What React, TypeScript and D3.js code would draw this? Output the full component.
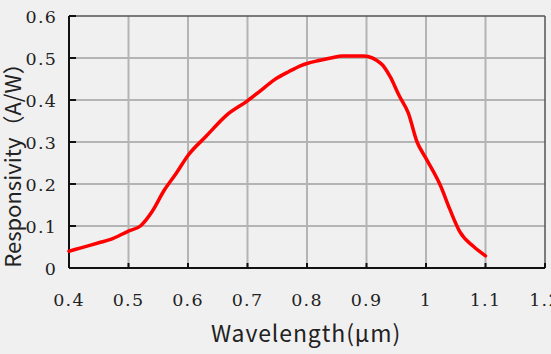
import * as d3 from 'd3';

const X_TICKS = [0.4, 0.5, 0.6, 0.7, 0.8, 0.9, 1.0, 1.1, 1.2];
const X_TICK_LABELS = ['0.4', '0.5', '0.6', '0.7', '0.8', '0.9', '1', '1.1', '1.2'];
const Y_TICKS = [0, 0.1, 0.2, 0.3, 0.4, 0.5, 0.6];
const Y_TICK_LABELS = ['0', '0.1', '0.2', '0.3', '0.4', '0.5', '0.6'];

const WAVELENGTH = [
  0.40, 0.42, 0.45, 0.47, 0.50, 0.52, 0.54, 0.56, 0.58, 0.60, 0.63, 0.665, 0.70, 0.72, 0.745,
  0.77, 0.79, 0.80, 0.82, 0.84, 0.86, 0.895, 0.925, 0.94, 0.955, 0.97, 0.985, 1.00, 1.025,
  1.04, 1.057, 1.08, 1.10,
];
const RESPONSIVITY = [
  0.040, 0.048, 0.060, 0.068, 0.088, 0.100, 0.135, 0.185, 0.225, 0.268, 0.313, 0.364, 0.398, 0.420, 0.448,
  0.468, 0.482, 0.487, 0.494, 0.500, 0.505, 0.505, 0.486, 0.455, 0.410, 0.370, 0.300, 0.261, 0.194,
  0.140, 0.086, 0.051, 0.029,
];

const W = 551;
const H = 354;
const margin = { left: 69, right: 6, top: 16, bottom: 86 };

function App() {
  const x = d3.scaleLinear().domain([0.4, 1.2]).range([margin.left, W - margin.right]);
  const y = d3.scaleLinear().domain([0, 0.6]).range([H - margin.bottom, margin.top]);

  const points: [number, number][] = WAVELENGTH.map((w, i) => [w, RESPONSIVITY[i]]);
  const line = d3.line<[number, number]>()
    .x(d => x(d[0]))
    .y(d => y(d[1]))
    .curve(d3.curveMonotoneX);

  const x0 = x(0.4), x1 = x(1.2), y0 = y(0), y1 = y(0.6);
  const tickFont = '"DejaVu Serif", "Liberation Serif", serif';
  const titleFont = '"Noto Sans CJK SC", "Noto Sans", sans-serif';

  return (
    <svg width={W} height={H} style={{ position: 'fixed', left: 0, top: 0, background: '#f0f0f0' }}>
      {/* grid */}
      {X_TICKS.slice(1, -1).map(t => (
        <line key={'gx' + t} x1={x(t)} x2={x(t)} y1={y1} y2={y0} stroke="#b4b4b4" strokeWidth={2} />
      ))}
      {Y_TICKS.slice(1, -1).map(t => (
        <line key={'gy' + t} x1={x0} x2={x1} y1={y(t)} y2={y(t)} stroke="#b4b4b4" strokeWidth={2} />
      ))}

      {/* frame */}
      <line x1={x0} x2={x1} y1={y1} y2={y1} stroke="#555" strokeWidth={1.5} />
      <line x1={x1} x2={x1} y1={y1} y2={y0} stroke="#555" strokeWidth={1.5} />
      <line x1={x0} x2={x0} y1={y1} y2={y0} stroke="#111" strokeWidth={2} />
      <line x1={x0} x2={x1} y1={y0} y2={y0} stroke="#111" strokeWidth={2} />

      {/* ticks */}
      {Y_TICKS.map(t => (
        <line key={'ty' + t} x1={x0} x2={x0 + 7} y1={y(t)} y2={y(t)} stroke="#111" strokeWidth={2} />
      ))}
      {X_TICKS.map(t => (
        <line key={'tx' + t} x1={x(t)} x2={x(t)} y1={y0} y2={y0 - 5} stroke="#111" strokeWidth={2} />
      ))}

      {/* tick labels */}
      {Y_TICKS.map((t, i) => (
        <text key={'ly' + t} x={57} y={y(t) + 6.5} textAnchor="end" fontFamily={tickFont} fontSize={17.5}
          letterSpacing={1.2} fill="#222">{Y_TICK_LABELS[i]}</text>
      ))}
      {X_TICKS.map((t, i) => (
        <text key={'lx' + t} x={x(t)} y={306} textAnchor="middle" fontFamily={tickFont} fontSize={17.5}
          letterSpacing={1.2} fill="#222">{X_TICK_LABELS[i]}</text>
      ))}

      {/* curve */}
      <path d={line(points) || ''} fill="none" stroke="#ff0000" strokeWidth={3.5} strokeLinejoin="round" strokeLinecap="round" />

      {/* axis titles */}
      <text x={306} y={342} textAnchor="middle" fontFamily={titleFont} fontSize={23} letterSpacing={0.9}
        fill="#222">Wavelength(μm)</text>
      <text transform={`translate(21,${160}) rotate(-90)`} textAnchor="middle" fontFamily={titleFont}
        fontSize={22} fill="#222">Responsivity（A/W）</text>
    </svg>
  );
}

export default App;
